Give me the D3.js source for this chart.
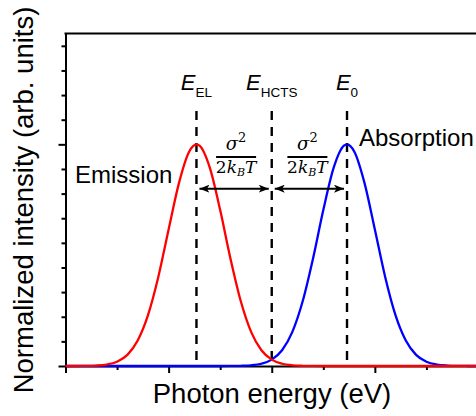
<!DOCTYPE html>
<html>
<head>
<meta charset="utf-8">
<script src="https://cdn.jsdelivr.net/npm/d3@7"></script>
<style>
  body { margin: 0; background: white; }
  svg { display: block; font-family: Arial, "Liberation Sans", sans-serif; }
</style>
</head>
<body>
<div id="d3-container"></div>
<script>
// photon energy grid (arb. units) and normalized spectra
const energy = [0, 0.1, 0.2, 0.3, 0.4, 0.5, 0.6, 0.7, 0.8, 0.9, 1.0, 1.1, 1.2, 1.27,
  1.3, 1.4, 1.5, 1.6, 1.7, 1.8, 1.9, 2.0, 2.1, 2.2, 2.3, 2.4, 2.5, 2.6, 2.7, 2.73,
  2.8, 2.9, 3.0, 3.1, 3.2, 3.3, 3.4, 3.5, 3.6, 3.7, 3.8, 3.9, 4.0, 4.1, 4.2];
const emission = [0, 0.0001, 0.0004, 0.0017, 0.0058, 0.0174, 0.0453, 0.1035, 0.2067, 0.3617, 0.554, 0.7425, 0.8711, 0.9,
  0.8946, 0.8042, 0.6329, 0.4359, 0.2628, 0.1387, 0.0641, 0.0259, 0.0092, 0.0028, 0.0008, 0.0002, 0, 0, 0, 0,
  0, 0, 0, 0, 0, 0, 0, 0, 0, 0, 0, 0, 0, 0, 0];
const absorption = [0, 0, 0, 0, 0, 0, 0, 0, 0, 0, 0, 0, 0, 0,
  0, 0, 0, 0.0002, 0.0008, 0.0028, 0.0092, 0.0259, 0.0641, 0.1387, 0.2628, 0.4359, 0.6329, 0.8042, 0.8946, 0.9,
  0.8711, 0.7425, 0.554, 0.3617, 0.2067, 0.1035, 0.0453, 0.0174, 0.0058, 0.0017, 0.0004, 0.0001, 0, 0, 0];

// marker lines: E_EL, E_HCTS, E_0
const markerEnergy = [1.27, 2.0, 2.73];
const markerSub = ["EL", "HCTS", "0"];

const xMajor = [0, 1, 2, 3, 4];
const xMinor = [0.5, 1.5, 2.5, 3.5];
const yMajor = [0, 0.9];
const yMinor = [0.1, 0.2, 0.3, 0.4, 0.5, 0.6, 0.7, 0.8, 1.0, 1.1, 1.2, 1.3];

const W = 476, H = 416;
const margin = { top: 33.5, left: 65.5, bottom: 50, right: -22.6 };

const svg = d3.select('#d3-container')
  .append('svg')
  .attr('width', W)
  .attr('height', H);

const x = d3.scaleLinear().domain([0, 4.2]).range([margin.left, W - margin.right]);
const y = d3.scaleLinear().domain([0, 1.35]).range([H - margin.bottom, margin.top]);

// axes (outward ticks)
const ax = (g) => g.call(s => s.selectAll('path,line').attr('stroke', '#000').attr('stroke-width', 2));
svg.append('g').attr('transform', `translate(0,${y(0)})`)
  .call(d3.axisBottom(x).tickValues(xMinor).tickSize(4).tickSizeOuter(0).tickFormat(''))
  .call(ax).select('.domain').remove();
svg.append('g').attr('transform', `translate(0,${y(0)})`)
  .call(d3.axisBottom(x).tickValues(xMajor).tickSize(7).tickSizeOuter(0).tickFormat(''))
  .call(ax);
svg.append('g').attr('transform', `translate(${x(0)},0)`)
  .call(d3.axisLeft(y).tickValues(yMinor).tickSize(4).tickSizeOuter(0).tickFormat(''))
  .call(ax).select('.domain').remove();
svg.append('g').attr('transform', `translate(${x(0)},0)`)
  .call(d3.axisLeft(y).tickValues(yMajor).tickSize(7).tickSizeOuter(0).tickFormat(''))
  .call(ax);
// top frame line
svg.append('line')
  .attr('x1', x(0) - 1).attr('x2', x(4.2))
  .attr('y1', y(1.35)).attr('y2', y(1.35))
  .attr('stroke', '#000').attr('stroke-width', 2);

// dashed marker lines
svg.selectAll('line.marker')
  .data(markerEnergy)
  .join('line')
  .attr('class', 'marker')
  .attr('x1', d => x(d)).attr('x2', d => x(d))
  .attr('y1', y(1.035)).attr('y2', y(0))
  .attr('stroke', '#000').attr('stroke-width', 2.4)
  .attr('stroke-dasharray', '9,7');

// spectra
const line = (vals) => d3.line()
  .x((d, i) => x(energy[i]))
  .y(d => y(d))
  .curve(d3.curveMonotoneX)(vals);

svg.append('path').attr('d', line(absorption))
  .attr('fill', 'none').attr('stroke', '#0000ff').attr('stroke-width', 2.3);
svg.append('path').attr('d', line(emission))
  .attr('fill', 'none').attr('stroke', '#ff0000').attr('stroke-width', 2.3);

// E labels
const lab = svg.selectAll('text.elab')
  .data(markerEnergy)
  .join('text')
  .attr('class', 'elab')
  .attr('x', d => x(d))
  .attr('y', 90)
  .attr('text-anchor', 'middle');
lab.append('tspan').attr('font-size', 22).attr('font-style', 'italic').text('E');
lab.append('tspan').attr('font-size', 13.5).attr('dy', 7).text((d, i) => markerSub[i]);

// double arrows with sigma^2 / 2kBT
const defs = svg.append('defs');
defs.append('marker')
  .attr('id', 'ah')
  .attr('viewBox', '0 0 10 8')
  .attr('refX', 10).attr('refY', 4)
  .attr('markerWidth', 10).attr('markerHeight', 8)
  .attr('markerUnits', 'userSpaceOnUse')
  .attr('orient', 'auto-start-reverse')
  .append('path').attr('d', 'M0,0 L10,4 L0,8 L2.5,4 Z').attr('fill', '#000');

const spans = [[markerEnergy[0], markerEnergy[1]], [markerEnergy[1], markerEnergy[2]]];
const arrowY = y(0.72);
spans.forEach(([a, b], i) => {
  svg.append('line')
    .attr('x1', x(a) + 3).attr('x2', x(b) - 3)
    .attr('y1', arrowY).attr('y2', arrowY)
    .attr('stroke', '#000').attr('stroke-width', 2)
    .attr('marker-start', 'url(#ah)').attr('marker-end', 'url(#ah)');
  const cx = (x(a) + x(b)) / 2 + (i === 0 ? 2 : -2);
  const f = svg.append('g').attr('font-family', '"DejaVu Serif", "Liberation Serif", serif');
  const num = f.append('text').attr('x', cx).attr('y', 150).attr('text-anchor', 'middle');
  num.append('tspan').attr('font-size', 18).attr('font-style', 'italic').text('σ');
  num.append('tspan').attr('font-size', 13).attr('dy', -8).text('2');
  f.append('line').attr('x1', cx - 20).attr('x2', cx + 20)
    .attr('y1', 157).attr('y2', 157).attr('stroke', '#000').attr('stroke-width', 1.8);
  const den = f.append('text').attr('x', cx).attr('y', 173).attr('text-anchor', 'middle');
  den.append('tspan').attr('font-size', 17).text('2');
  den.append('tspan').attr('font-size', 17).attr('font-style', 'italic').text('k');
  den.append('tspan').attr('font-size', 11).attr('font-style', 'italic').attr('dy', 3).text('B');
  den.append('tspan').attr('font-size', 17).attr('font-style', 'italic').attr('dy', -3).text('T');
});

// series labels
svg.append('text').attr('x', 75).attr('y', 183).attr('font-size', 24).text('Emission');
svg.append('text').attr('x', 359).attr('y', 146).attr('font-size', 24).text('Absorption');

// axis titles
svg.append('text')
  .attr('x', 272).attr('y', 403)
  .attr('text-anchor', 'middle')
  .attr('font-size', 27.5)
  .text('Photon energy (eV)');
svg.append('text')
  .attr('transform', 'translate(33,200) rotate(-90)')
  .attr('text-anchor', 'middle')
  .attr('font-size', 27.5)
  .text('Normalized intensity (arb. units)');
</script>
</body>
</html>
